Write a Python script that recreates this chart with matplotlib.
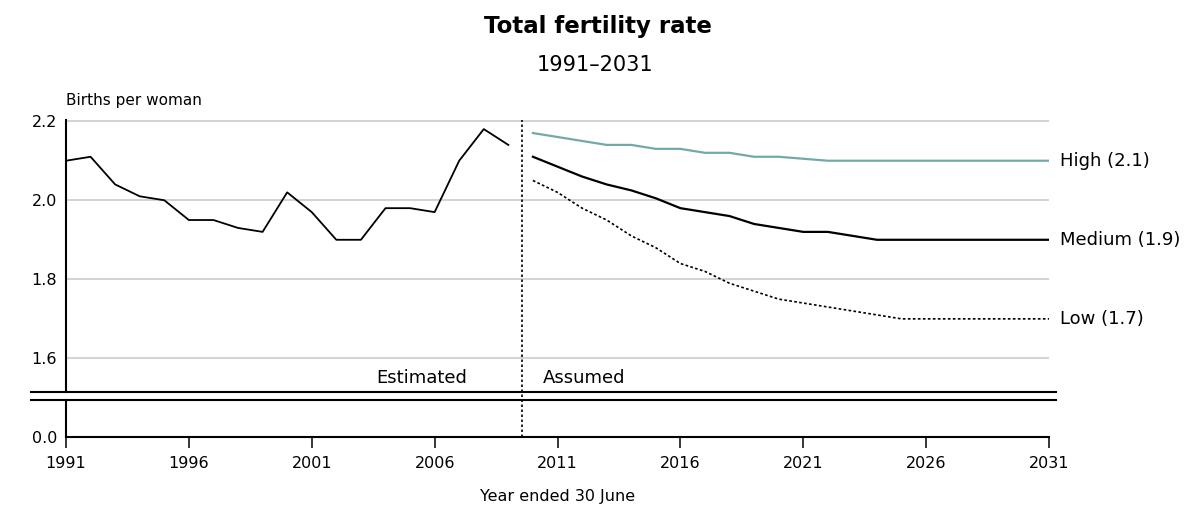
import matplotlib
matplotlib.use('Agg')
import matplotlib.pyplot as plt
from matplotlib.lines import Line2D
from matplotlib.transforms import blended_transform_factory

# data
est_years = list(range(1991, 2010))
est_tfr = [2.10, 2.11, 2.04, 2.01, 2.00, 1.95, 1.95, 1.93, 1.92, 2.02,
           1.97, 1.90, 1.90, 1.98, 1.98, 1.97, 2.10, 2.18, 2.14]

proj_years = list(range(2010, 2032))
high_tfr = [2.17, 2.16, 2.15, 2.14, 2.14, 2.13, 2.13, 2.12, 2.12, 2.11, 2.11,
            2.105, 2.10, 2.10, 2.10, 2.10, 2.10, 2.10, 2.10, 2.10, 2.10, 2.10]
medium_tfr = [2.11, 2.085, 2.06, 2.04, 2.025, 2.005, 1.98, 1.97, 1.96, 1.94, 1.93,
              1.92, 1.92, 1.91, 1.90, 1.90, 1.90, 1.90, 1.90, 1.90, 1.90, 1.90]
low_tfr = [2.05, 2.02, 1.98, 1.95, 1.91, 1.88, 1.84, 1.82, 1.79, 1.77, 1.75,
           1.74, 1.73, 1.72, 1.71, 1.70, 1.70, 1.70, 1.70, 1.70, 1.70, 1.70]

series_labels = ['High (2.1)', 'Medium (1.9)', 'Low (1.7)']
upper_ticks = [1.6, 1.8, 2.0, 2.2]
x_ticks = list(range(1991, 2032, 5))
split_year = 2009.57

W, H = 1192, 508
fig = plt.figure(figsize=(W / 100, H / 100), dpi=100)
fig.patch.set_facecolor('white')


def fx(px):
    return px / W


def fy(py):
    return 1 - py / H


left, right = 66, 1049
ax = fig.add_axes([fx(left), fy(392), fx(right - left), fy(120) - fy(392)])
axb = fig.add_axes([fx(left), fy(437), fx(right - left), fy(400) - fy(437)])

for a in (ax, axb):
    a.set_xlim(1991, 2031)
    for s in ('top', 'right'):
        a.spines[s].set_visible(False)
    a.spines['left'].set_linewidth(1.5)
    a.patch.set_alpha(0)

# upper panel
ax.set_ylim(1.515, 2.203)
ax.spines['bottom'].set_visible(False)
ax.set_xticks([])
ax.set_yticks(upper_ticks)
ax.set_yticklabels(['%.1f' % v for v in upper_ticks])
ax.tick_params(axis='y', length=0, pad=6.5, labelsize=11.5)
ax.yaxis.grid(True, color='#d4d4d4', linewidth=1.5)
ax.set_axisbelow(True)

ax.plot(est_years, est_tfr, color='black', lw=1.3)
ax.plot(proj_years, high_tfr, color='#73a9a9', lw=1.6)
ax.plot(proj_years, medium_tfr, color='black', lw=1.6)
ax.plot(proj_years, low_tfr, color='black', lw=1.2, dashes=(1.6, 1.4))

for lab, vals in zip(series_labels, [high_tfr, medium_tfr, low_tfr]):
    ax.annotate(lab, xy=(proj_years[-1], vals[-1]), xytext=(8, 0),
                textcoords='offset points', va='center', ha='left',
                fontsize=13, annotation_clip=False)

ax.annotate('Estimated', xy=(split_year, 1.55), xytext=(-40, 0),
            textcoords='offset points', ha='right', va='center', fontsize=13)
ax.annotate('Assumed', xy=(split_year, 1.55), xytext=(15, 0),
            textcoords='offset points', ha='left', va='center', fontsize=13)

# lower panel
axb.set_ylim(0, 0.092)
axb.spines['bottom'].set_linewidth(1.5)
axb.set_yticks([0.0])
axb.set_yticklabels(['0.0'])
axb.tick_params(axis='y', length=0, pad=6.5, labelsize=11.5)
axb.set_xticks(x_ticks)
axb.set_xticklabels([str(y) for y in x_ticks])
axb.tick_params(axis='x', direction='out', length=8, width=1.1, pad=6, labelsize=11.5)
axb.set_xlabel('Year ended 30 June', fontsize=11.5, labelpad=13)

# dotted divider between estimated and assumed
tr = blended_transform_factory(ax.transData, fig.transFigure)
fig.add_artist(Line2D([split_year, split_year], [fy(437), fy(120)], transform=tr,
                      color='black', lw=1.2, dashes=(1.5, 1.5)))

# axis break
for py in (392.3, 400.3):
    fig.add_artist(Line2D([fx(31), fx(1056)], [fy(py), fy(py)],
                          color='black', lw=1.5))

fig.text(fx(598), fy(27), 'Total fertility rate', ha='center', va='center',
         fontsize=16.5, fontweight='bold')
fig.text(fx(595), fy(65), '1991\u20132031', ha='center', va='center', fontsize=15)
fig.text(fx(66), fy(100), 'Births per woman', ha='left', va='center', fontsize=11)

fig.savefig('out.png', dpi=100)
